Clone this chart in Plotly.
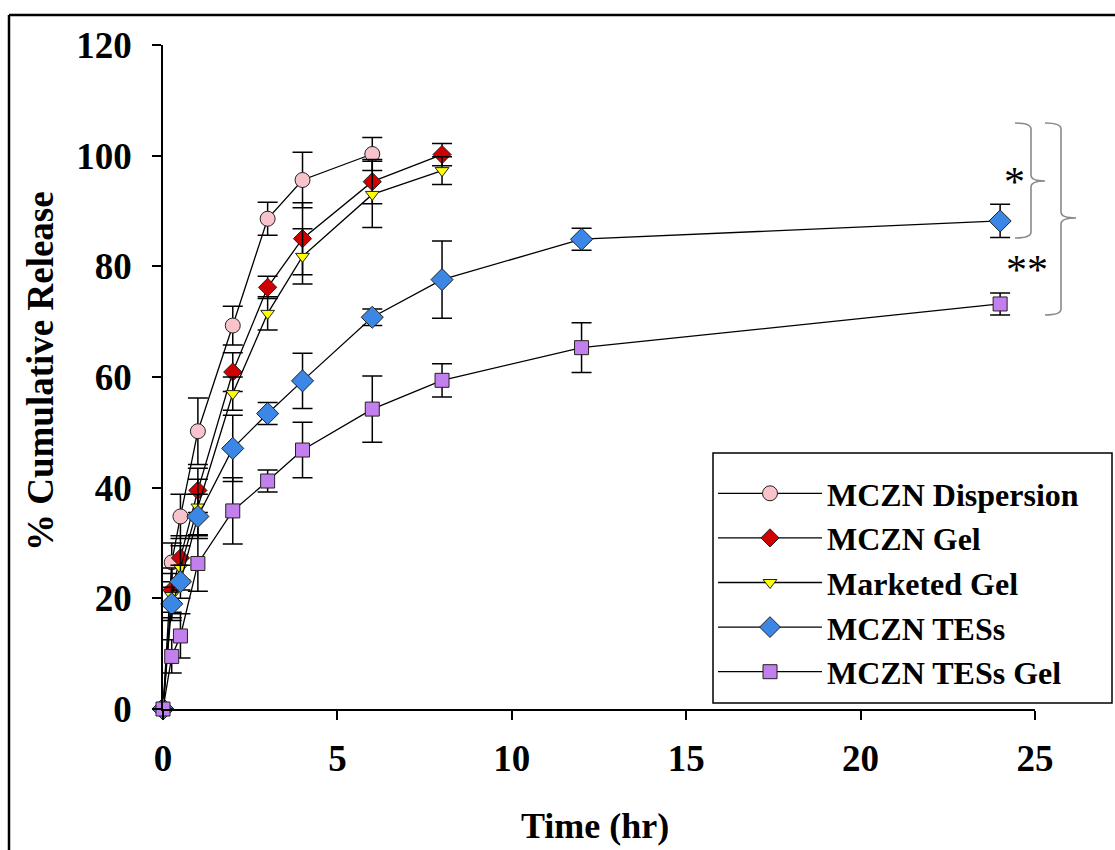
import plotly.graph_objects as go

# ---------------- data ----------------
t_short = [0, 0.25, 0.5, 1, 2, 3, 4, 6]
t_mid = [0, 0.25, 0.5, 1, 2, 3, 4, 6, 8]
t_long = [0, 0.25, 0.5, 1, 2, 3, 4, 6, 8, 12, 24]

disp_vals = [0, 26.5, 34.8, 50.2, 69.3, 88.6, 95.6, 100.3]
disp_err = [0, 3.5, 4, 6, 3.5, 3, 5, 3]

gel_vals = [0, 21.5, 27.3, 39.5, 60.9, 76.2, 85.0, 95.3, 100.2]
gel_err = [0, 4, 4, 4, 3.5, 2, 6.5, 4, 2]

mkt_vals = [0, 20.5, 25.5, 36.5, 57.0, 71.5, 81.8, 93.0, 97.3]
mkt_err = [0, 4, 4, 5, 3, 3, 5, 6, 2.5]

tes_vals = [0, 19, 23, 34.8, 47.1, 53.4, 59.3, 70.8, 77.6, 84.9, 88.2]
tes_err = [0, 3, 3, 4, 6, 2, 5, 1.5, 7, 2, 3]

tesgel_vals = [0, 9.5, 13.2, 26.3, 35.8, 41.2, 46.8, 54.2, 59.4, 65.3, 73.2]
tesgel_err = [0, 3, 4, 5, 6, 2, 5, 6, 3, 4.5, 2]

names = ["MCZN Dispersion", "MCZN Gel", "Marketed Gel", "MCZN TESs", "MCZN TESs Gel"]
x_ticks = [0, 5, 10, 15, 20, 25]
y_ticks = [0, 20, 40, 60, 80, 100, 120]

# ---------------- figure ----------------
W, H = 1115, 850
L, R, T, B = 163, 80, 45, 141
PW, PH = W - L - R, H - T - B


def px(xp):
    return (xp - L) / PW


def py(yp):
    return (H - B - yp) / PH


FONT = "Liberation Serif"
series = [
    (t_short, disp_vals, disp_err, "circle", "#F9C3CB", 15),
    (t_mid, gel_vals, gel_err, "diamond", "#D00000", 14),
    (t_mid, mkt_vals, mkt_err, "triangle-down", "#FFFF00", 12),
    (t_long, tes_vals, tes_err, "diamond", "#3C86E6", 17),
    (t_long, tesgel_vals, tesgel_err, "square", "#C47FEF", 14),
]

fig = go.Figure()
for i, (xs, ys, es, sym, col, sz) in enumerate(series):
    fig.add_trace(go.Scatter(
        x=xs, y=ys, name=names[i], mode="lines+markers",
        legendgroup=f"g{i}",
        line=dict(color="black", width=1.3),
        marker=dict(symbol=sym, color=col, size=sz,
                    line=dict(color="#222222", width=1)),
        error_y=dict(type="data", array=es, visible=True,
                     color="black", thickness=1.5, width=10),
        cliponaxis=False,
    ))

shapes = []
# outer frame (top and left edges)
shapes.append(dict(type="line", xref="paper", yref="paper",
                   x0=px(9), x1=px(1115), y0=py(15), y1=py(15),
                   line=dict(color="black", width=2.5)))
shapes.append(dict(type="line", xref="paper", yref="paper",
                   x0=px(9), x1=px(9), y0=py(15), y1=py(850),
                   line=dict(color="black", width=2.5)))
# legend box
shapes.append(dict(type="rect", xref="paper", yref="paper",
                   x0=px(713), x1=px(1112), y0=py(453), y1=py(703),
                   fillcolor="white", line=dict(color="black", width=1.5),
                   layer="above"))


def bracket(x_left, x_spine, x_tip, y_top, y_mid, y_bot):
    r = 6
    p = (f"M {px(x_left)},{py(y_top)} "
         f"Q {px(x_spine)},{py(y_top)} {px(x_spine)},{py(y_top + r)} "
         f"L {px(x_spine)},{py(y_mid - r)} "
         f"Q {px(x_spine)},{py(y_mid)} {px(x_tip)},{py(y_mid)} "
         f"Q {px(x_spine)},{py(y_mid)} {px(x_spine)},{py(y_mid + r)} "
         f"L {px(x_spine)},{py(y_bot - r)} "
         f"Q {px(x_spine)},{py(y_bot)} {px(x_left)},{py(y_bot)}")
    return dict(type="path", xref="paper", yref="paper", path=p,
                line=dict(color="#8a8a8a", width=1.6))


shapes.append(bracket(1015, 1031, 1045, 123, 181, 238))
shapes.append(bracket(1045, 1061, 1076, 123, 218, 315))

annotations = [
    dict(text="*", x=px(1014), y=py(182), xref="paper", yref="paper",
         showarrow=False, font=dict(family=FONT, size=42, color="black"),
         xanchor="center", yanchor="middle"),
    dict(text="**", x=px(1027), y=py(270), xref="paper", yref="paper",
         showarrow=False, font=dict(family=FONT, size=42, color="black"),
         xanchor="center", yanchor="middle"),
    dict(text="<b>% Cumulative Release</b>", x=px(40), y=py(371),
         xref="paper", yref="paper", showarrow=False, textangle=-90,
         font=dict(family=FONT, size=37, color="black"),
         xanchor="center", yanchor="middle"),
    dict(text="<b>Time (hr)</b>", x=px(595), y=py(826),
         xref="paper", yref="paper", showarrow=False,
         font=dict(family=FONT, size=36, color="black"),
         xanchor="center", yanchor="middle"),
]

axis_common = dict(showline=True, linecolor="black", linewidth=1.5,
                   ticks="outside", ticklen=9, tickwidth=1.5, tickcolor="black",
                   showgrid=False, zeroline=False,
                   tickfont=dict(family=FONT, size=37, color="black"))

fig.update_layout(
    width=W, height=H,
    margin=dict(l=L, r=R, t=T, b=B, pad=0),
    paper_bgcolor="white", plot_bgcolor="white",
    font=dict(family=FONT, color="black"),
    xaxis=dict(range=[0, 25], tickvals=x_ticks,
               ticktext=[f"<b>{v}</b>" for v in x_ticks],
               ticklabelstandoff=7, **axis_common),
    yaxis=dict(range=[0, 120], tickvals=y_ticks,
               ticktext=[f"<b>{v}</b>" for v in y_ticks],
               ticklabelstandoff=13, **axis_common),
    showlegend=True,
    legend=dict(x=px(713), y=py(466), xanchor="left", yanchor="top",
                bgcolor="rgba(0,0,0,0)", borderwidth=0,
                font=dict(family=FONT, size=32, color="black", weight="bold"),
                itemwidth=104, tracegroupgap=0, traceorder="normal"),
    shapes=shapes,
    annotations=annotations,
)

fig.write_html("out.html")
